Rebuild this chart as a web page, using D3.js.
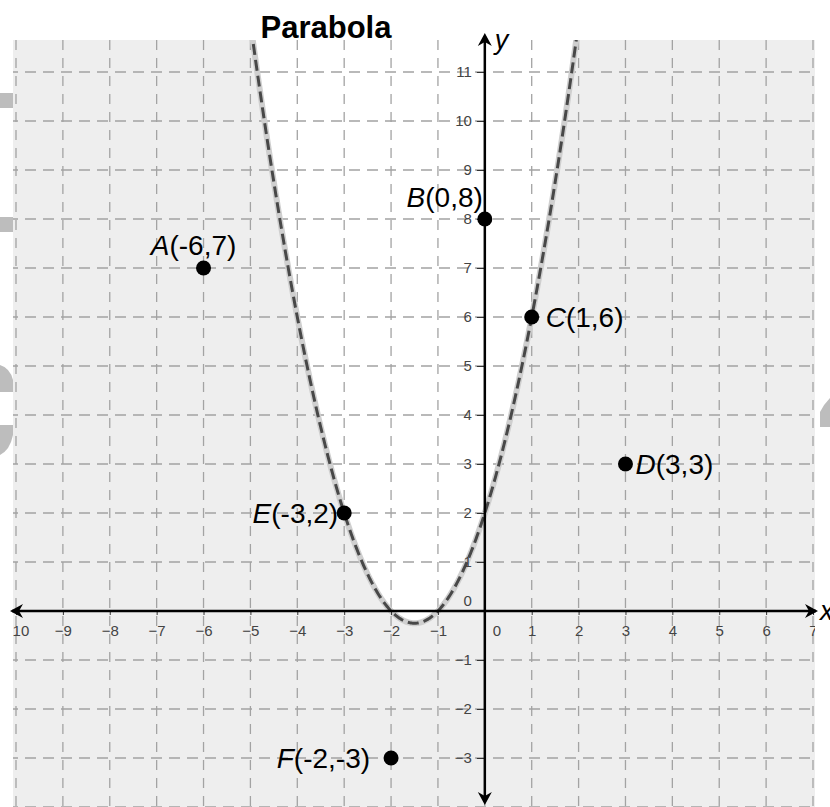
<!DOCTYPE html>
<html>
<head>
<meta charset="utf-8">
<script src="https://cdn.jsdelivr.net/npm/d3@7"></script>
<style>
  body { margin: 0; background: #fff; }
  svg { display: block; font-family: Arial, "Liberation Sans", sans-serif; }
</style>
</head>
<body>
<svg id="chart" width="830" height="807"></svg>
<script>
// data
const pointNames = ["A", "B", "C", "D", "E", "F"];
const pointX = [-6, 0, 1, 3, -3, -2];
const pointY = [7, 8, 6, 3, 2, -3];
const curveCoef = [1, 3, 2]; // y = a x^2 + b x + c
const xTicks = [-10, -9, -8, -7, -6, -5, -4, -3, -2, -1, 1, 2, 3, 4, 5, 6, 7];
const yTicks = [-3, -2, -1, 1, 2, 3, 4, 5, 6, 7, 8, 9, 10, 11];
const titleText = "Parabola";

document.addEventListener("DOMContentLoaded", function () {
  const svg = d3.select("#chart");
  // plot box
  const left = 13, right = 815, top = 40, bottom = 807;

  const x = d3.scaleLinear().domain([-10, 7]).range([16, 813]);
  const y = d3.scaleLinear().domain([11, -3]).range([72, 758]);

  // watermark bits sticking out at the edges
  const wm = svg.append("g").attr("fill", "#bdbdbd");
  wm.append("rect").attr("x", 0).attr("y", 93).attr("width", 13).attr("height", 15);
  wm.append("rect").attr("x", 0).attr("y", 217).attr("width", 13).attr("height", 15);
  wm.append("path").attr("d", "M0,365 Q10,368 13,380 L13,392 L0,392 Z");
  wm.append("path").attr("d", "M0,425 L13,425 L13,435 Q10,450 0,455 Z");
  wm.append("path").attr("d", "M830,398 L830,427 L820,427 L820,412 Q824,404 830,398 Z");

  svg.append("defs").append("clipPath").attr("id", "plot")
    .append("rect").attr("x", left).attr("y", top)
    .attr("width", right - left).attr("height", bottom - top);

  const plot = svg.append("g").attr("clip-path", "url(#plot)");

  plot.append("rect")
    .attr("x", left).attr("y", top)
    .attr("width", right - left).attr("height", bottom - top)
    .attr("fill", "#eeeeee");

  const f = v => curveCoef[0] * v * v + curveCoef[1] * v + curveCoef[2];
  const xs = d3.range(-6, 3.001, 0.01);

  // white region inside the parabola
  plot.append("path")
    .datum(xs)
    .attr("fill", "#ffffff")
    .attr("d", d3.area()
      .x(d => x(d))
      .y0(top - 5)
      .y1(d => Math.max(y(f(d)), top - 5)));

  // grid
  const grid = plot.append("g")
    .attr("stroke", "#a3a3a3")
    .attr("stroke-width", 1.3);
  grid.selectAll(".gx")
    .data(d3.range(-10, 8))
    .enter().append("line")
    .attr("x1", d => x(d)).attr("x2", d => x(d))
    .attr("y1", top).attr("y2", bottom)
    .attr("stroke-dasharray", "10,8");
  grid.selectAll(".gy")
    .data(d3.range(-4, 12))
    .enter().append("line")
    .attr("y1", d => y(d)).attr("y2", d => y(d))
    .attr("x1", left).attr("x2", right)
    .attr("stroke-dasharray", "11,7")
    .attr("stroke-dashoffset", 6);

  // parabola
  const line = d3.line().x(d => x(d)).y(d => y(f(d)));
  plot.append("path").datum(xs)
    .attr("fill", "none").attr("stroke", "#cfcfcf").attr("stroke-width", 6)
    .attr("d", line);
  plot.append("path").datum(xs)
    .attr("fill", "none").attr("stroke", "#484848").attr("stroke-width", 3)
    .attr("stroke-dasharray", "11,5")
    .attr("d", line);

  // axes (labels clipped to the plot box like the reference)
  const x0 = x(0), y0 = y(0);
  const xAxis = plot.append("g")
    .attr("transform", `translate(0,${y0})`)
    .call(d3.axisBottom(x).tickValues(xTicks).tickSize(4).tickPadding(10))
    .attr("font-size", 15)
    .attr("font-family", "Arial, 'Liberation Sans', sans-serif");
  xAxis.select(".domain").remove();
  xAxis.selectAll("line").attr("stroke", "#333").attr("stroke-width", 1);
  xAxis.selectAll("text").attr("fill", "#444");

  const yAxis = plot.append("g")
    .attr("transform", `translate(${x0},0)`)
    .call(d3.axisLeft(y).tickValues(yTicks).tickSize(8).tickPadding(5))
    .attr("font-size", 15)
    .attr("font-family", "Arial, 'Liberation Sans', sans-serif");
  yAxis.select(".domain").remove();
  yAxis.selectAll("line").attr("stroke", "#333").attr("stroke-width", 1);
  yAxis.selectAll("text").attr("fill", "#444");

  plot.append("text").attr("x", x0 + 12).attr("y", y0 + 25)
    .attr("text-anchor", "middle").attr("font-size", 15).attr("fill", "#444").text("0");
  plot.append("text").attr("x", x0 - 13).attr("y", y0 - 5)
    .attr("text-anchor", "end").attr("font-size", 15).attr("fill", "#444").text("0");

  // axis lines with arrows
  svg.append("line").attr("x1", 12).attr("x2", 816)
    .attr("y1", y0).attr("y2", y0).attr("stroke", "#000").attr("stroke-width", 2.5);
  svg.append("line").attr("x1", x0).attr("x2", x0)
    .attr("y1", 36).attr("y2", 802).attr("stroke", "#000").attr("stroke-width", 2.5);

  const arrow = (tx, ty, ang) => {
    const a = ang * Math.PI / 180;
    const pts = [[0, 0], [-13, -7], [-9, 0], [-13, 7]].map(([px, py]) =>
      [tx + px * Math.cos(a) - py * Math.sin(a), ty + px * Math.sin(a) + py * Math.cos(a)]);
    svg.append("path").attr("d", "M" + pts.join("L") + "Z").attr("fill", "#000");
  };
  arrow(818, y0, 0);
  arrow(10, y0, 180);
  arrow(x0, 33, -90);
  arrow(x0, 805, 90);

  svg.append("text").attr("x", 820).attr("y", y0 + 9)
    .attr("font-size", 27).attr("font-style", "italic").text("x");
  svg.append("text").attr("x", x0 + 10).attr("y", 49)
    .attr("font-size", 27).attr("font-style", "italic").text("y");

  // points
  const pts = pointNames.map((n, i) => ({ name: n, px: pointX[i], py: pointY[i] }));
  svg.selectAll(".pt").data(pts).enter().append("circle")
    .attr("cx", d => x(d.px)).attr("cy", d => y(d.py)).attr("r", 7.5).attr("fill", "#000");

  // label placement: [dx, dy, anchor]
  const place = {
    A: [-10, -13, "middle"],
    B: [-2, -12, "end"],
    C: [14, 10, "start"],
    D: [10, 10, "start"],
    E: [-6, 10, "end"],
    F: [-21, 10, "end"]
  };
  const labels = svg.selectAll(".lab").data(pts).enter().append("text")
    .attr("x", d => x(d.px) + place[d.name][0])
    .attr("y", d => y(d.py) + place[d.name][1])
    .attr("text-anchor", d => place[d.name][2])
    .attr("font-size", 28).attr("fill", "#000");
  labels.append("tspan").attr("font-style", "italic").text(d => d.name);
  labels.append("tspan").text(d => `(${d.px},${d.py})`);

  svg.append("text").attr("x", 326).attr("y", 38)
    .attr("text-anchor", "middle").attr("font-size", 31).attr("font-weight", "bold")
    .text(titleText);
});
</script>
</body>
</html>
